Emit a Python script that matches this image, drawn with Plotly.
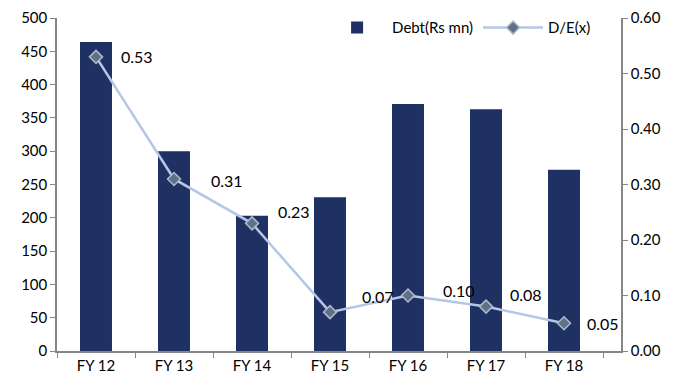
import plotly.graph_objects as go

categories = ["FY 12", "FY 13", "FY 14", "FY 15", "FY 16", "FY 17", "FY 18"]
debt = [464, 300, 203, 231, 371, 363, 272]
de_ratio = [0.53, 0.31, 0.23, 0.07, 0.10, 0.08, 0.05]
de_labels = ["0.53", "0.31", "0.23", "0.07", "0.10", "0.08", "0.05"]

# label placement offsets (pixels) relative to each point
label_dx = [23, 35, 24, 30, 33, 22, 21]
label_dy = [0, -2, 12, 16, 5, 12, 0]

font_family = "Lato, 'Open Sans', sans-serif"
axis_color = "#868686"

fig = go.Figure()
fig.add_trace(go.Bar(
    x=categories, y=debt, name="Debt(Rs mn)",
    marker=dict(color="#1F3162", line=dict(width=0)),
))
fig.add_trace(go.Scatter(
    x=categories, y=de_ratio, name="D/E(x)", yaxis="y2",
    mode="lines+markers",
    line=dict(color="#B4C7E7", width=2.5),
    marker=dict(symbol="diamond", size=10, color="#5F7089",
                line=dict(color="#AEB9CA", width=1.5)),
    cliponaxis=False,
))

for cat, v, lab, dx, dy in zip(categories, de_ratio, de_labels, label_dx, label_dy):
    fig.add_annotation(
        x=cat, y=v, xref="x", yref="y2", text=lab, showarrow=False,
        xanchor="left", yanchor="middle", xshift=dx, yshift=dy,
        font=dict(size=16, color="#000000", family=font_family),
    )

fig.update_layout(
    width=673, height=388,
    margin=dict(l=57, r=52, t=18, b=37, autoexpand=False),
    paper_bgcolor="white", plot_bgcolor="white",
    font=dict(family=font_family, size=15, color="#000000"),
    bargap=0.59,
    showlegend=True,
    legend=dict(orientation="h", x=0.47, y=1.02, xanchor="left", yanchor="top",
                font=dict(size=15), bgcolor="rgba(255,255,255,0)",
                itemwidth=60, traceorder="normal"),
    xaxis=dict(showline=True, linecolor=axis_color, linewidth=1.5,
               ticks="outside", tickson="boundaries", ticklen=5,
               tickcolor=axis_color, showgrid=False),
    yaxis=dict(range=[0, 500], dtick=50, showline=True, linecolor=axis_color,
               linewidth=1.5, ticks="outside", ticklen=5, tickcolor=axis_color,
               showgrid=False, zeroline=False),
    yaxis2=dict(range=[0, 0.6], dtick=0.1, tickformat=".2f", overlaying="y",
                side="right", showline=True, linecolor=axis_color, linewidth=1.5,
                ticks="outside", ticklen=5, tickcolor=axis_color,
                showgrid=False, zeroline=False),
)

fig.write_html("out.html")
